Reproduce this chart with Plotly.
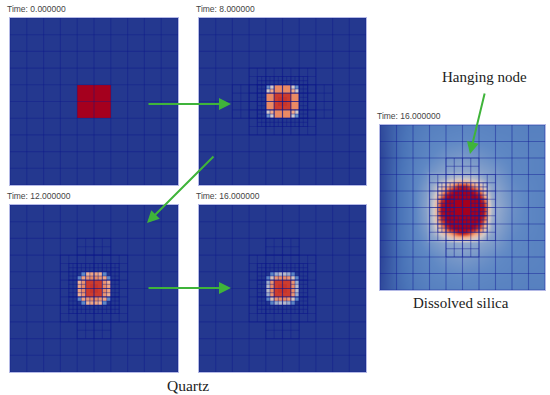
import numpy as np
import plotly.graph_objects as go

W, H = 550, 395
time_labels = ["Time: 0.000000", "Time: 8.000000", "Time: 12.000000", "Time: 16.000000", "Time: 16.000000"]
panel_boxes = [(10, 178, 18, 185), (199, 366, 18, 185), (10, 178, 205, 372), (199, 366, 205, 372), (380, 545, 125, 290)]

colorscale = [[0, "#24388f"], [0.2, "#4a74b8"], [0.3, "#5f88c4"], [0.4, "#8ea6cc"], [0.5, "#d0c8c8"],
              [0.6, "#f0b394"], [0.7, "#e98058"], [0.82, "#cc3c2e"], [1, "#a5001e"]]

# quartz, quarter-cell values over cells 4..6
quartz_t0 = [[100] * 8] * 8
quartz_t8 = [
    [32, 50, 68, 68, 68, 68, 50, 32],
    [50, 62, 68, 68, 68, 68, 62, 50],
    [68, 68, 82, 82, 82, 82, 68, 68],
    [68, 68, 82, 84, 84, 82, 68, 68],
    [68, 68, 82, 84, 84, 82, 68, 68],
    [68, 68, 82, 82, 82, 82, 68, 68],
    [50, 62, 68, 68, 68, 68, 62, 50],
    [32, 50, 68, 68, 68, 68, 50, 32],
]
quartz_t12 = [
    [0, 30, 60, 63, 63, 60, 30, 0],
    [30, 63, 66, 68, 68, 66, 63, 30],
    [60, 66, 82, 82, 82, 82, 66, 60],
    [63, 68, 82, 84, 84, 82, 68, 63],
    [63, 68, 82, 84, 84, 82, 68, 63],
    [60, 66, 82, 82, 82, 82, 66, 60],
    [30, 63, 66, 68, 68, 66, 63, 30],
    [0, 30, 60, 63, 63, 60, 30, 0],
]
quartz_t16 = [
    [0, 28, 42, 46, 46, 42, 28, 0],
    [28, 52, 66, 68, 68, 66, 52, 28],
    [42, 66, 82, 82, 82, 82, 66, 42],
    [46, 68, 82, 84, 84, 82, 68, 46],
    [46, 68, 82, 84, 84, 82, 68, 46],
    [42, 66, 82, 82, 82, 82, 66, 42],
    [28, 52, 66, 68, 68, 66, 52, 28],
    [0, 28, 42, 46, 46, 42, 28, 0],
]
quartz_frames = [quartz_t0, quartz_t8, quartz_t12, quartz_t16]

silica_outer = [
    [6, 16, 22, 26, 27, 28, 28, 27, 27, 26, 26],
    [5, 17, 24, 28, 30, 31, 30, 29, 28, 27, 27],
    [4, 17, 25, 30, 34, 36, 34, 31, 29, 28, 27],
    [4, 18, 27, 35, 40, 42, 40, 36, 30, 28, 27],
    [4, 18, 28, 40, 45, 46, 45, 40, 32, 29, 27],
    [4, 18, 28, 42, 46, 50, 46, 42, 33, 29, 27],
    [4, 18, 28, 40, 45, 46, 45, 40, 32, 29, 27],
    [4, 18, 27, 35, 40, 42, 40, 36, 30, 28, 27],
    [4, 17, 25, 30, 34, 36, 34, 31, 29, 28, 27],
    [5, 17, 24, 28, 30, 31, 30, 29, 28, 27, 27],
    [6, 16, 22, 26, 27, 28, 28, 27, 27, 26, 26],
]
silica_inner_nodes = [3, 3.25, 3.5, 3.75, 4, 4.25, 4.5, 4.75, 5, 5.25, 5.5, 5.75, 6, 6.25, 6.5, 6.75, 7]
silica_inner = [
    [36, 37, 38, 39, 40, 41, 42, 42, 42, 42, 42, 41, 40, 38, 37, 36, 35],
    [37, 38, 40, 42, 44, 46, 48, 49, 49, 49, 48, 46, 44, 41, 39, 37, 36],
    [38, 40, 43, 47, 52, 56, 60, 63, 64, 63, 60, 56, 52, 46, 41, 38, 37],
    [39, 43, 48, 55, 60, 66, 76, 88, 94, 88, 76, 66, 59, 51, 44, 40, 38],
    [40, 45, 52, 60, 76, 92, 100, 100, 100, 100, 100, 92, 74, 58, 47, 41, 38],
    [41, 47, 56, 68, 94, 100, 100, 100, 100, 100, 100, 100, 92, 64, 50, 42, 39],
    [42, 49, 60, 82, 100, 100, 100, 100, 100, 100, 100, 100, 100, 78, 55, 43, 39],
    [42, 50, 62, 92, 100, 100, 100, 100, 100, 100, 100, 100, 100, 90, 58, 44, 40],
    [42, 50, 64, 96, 100, 100, 100, 100, 100, 100, 100, 100, 100, 94, 60, 45, 40],
    [42, 50, 64, 96, 100, 100, 100, 100, 100, 100, 100, 100, 100, 94, 60, 45, 40],
    [42, 50, 62, 92, 100, 100, 100, 100, 100, 100, 100, 100, 100, 90, 58, 44, 40],
    [42, 49, 60, 82, 100, 100, 100, 100, 100, 100, 100, 100, 100, 78, 55, 43, 39],
    [41, 47, 57, 70, 94, 100, 100, 100, 100, 100, 100, 100, 92, 66, 52, 42, 39],
    [40, 45, 52, 60, 78, 94, 100, 100, 100, 100, 100, 92, 76, 60, 48, 41, 38],
    [39, 43, 48, 55, 62, 68, 78, 90, 96, 90, 78, 68, 61, 52, 45, 40, 38],
    [38, 40, 43, 47, 51, 55, 60, 63, 64, 63, 60, 55, 51, 46, 41, 38, 37],
    [37, 38, 40, 42, 44, 46, 48, 49, 49, 49, 48, 46, 44, 41, 39, 37, 36],
]

# mesh patches: x0, x1, y0, y1, divisions per coarse cell
mesh_base = [(0, 10, 0, 10, 1)]
mesh_t8 = mesh_base + [(2, 8, 4, 6, 2), (3, 7, 3, 7, 2), (3.5, 6.5, 3.5, 4, 4), (3.5, 6.5, 6, 6.5, 4),
                       (3.5, 4, 4, 6, 4), (6, 6.5, 4, 6, 4), (4, 4.5, 4, 4.5, 4), (5.5, 6, 4, 4.5, 4),
                       (4, 4.5, 5.5, 6, 4), (5.5, 6, 5.5, 6, 4)]
mesh_late = mesh_base + [(4, 6, 2, 3, 2), (4, 6, 7, 8, 2), (3, 7, 3, 7, 2), (3.5, 6.5, 3.5, 4.5, 4),
                         (3.5, 6.5, 5.5, 6.5, 4), (3.5, 4.5, 4.5, 5.5, 4), (5.5, 6.5, 4.5, 5.5, 4)]
panel_meshes = [mesh_base, mesh_t8, mesh_late, mesh_late, mesh_late]

line_colors = ["rgba(14,24,140,0.38)"] * 4 + ["rgba(20,30,150,0.46)"]
labels = [("Hanging node", 484, 77, 15), ("Dissolved silica", 461, 303, 15), ("Quartz", 188, 385, 15.5)]
arrows = [(147, 104, 231, 104), (215, 155, 147, 223), (147, 288, 231, 288), (485, 92, 470, 154)]


def segments(mesh):
    hx, hy, vx, vy = [], [], [], []
    for x0, x1, y0, y1, d in mesh:
        for k in range(int(round((y1 - y0) * d)) + 1):
            y = y0 + k / d
            hx += [x0, x1, None]
            hy += [y, y, None]
        for k in range(int(round((x1 - x0) * d)) + 1):
            x = x0 + k / d
            vx += [x, x, None]
            vy += [y0, y1, None]
    return hx, hy, vx, vy


fig = go.Figure()
quarter_nodes = np.arange(40) / 4 + 0.125
for i in range(5):
    ax = "" if i == 0 else str(i + 1)
    common = dict(xaxis="x" + ax, yaxis="y" + ax, zmin=0, zmax=100, colorscale=colorscale,
                  showscale=False, hoverinfo="skip")
    if i < 4:
        z = np.zeros((40, 40))
        z[16:24, 16:24] = quartz_frames[i]
        fig.add_trace(go.Heatmap(z=z, x=quarter_nodes, y=quarter_nodes, **common))
    else:
        nodes = list(range(11))
        fig.add_trace(go.Heatmap(z=silica_outer, x=nodes, y=nodes, zsmooth="best", **common))
        fig.add_trace(go.Heatmap(z=silica_inner, x=silica_inner_nodes, y=silica_inner_nodes, zsmooth="best", **common))
    hx, hy, vx, vy = segments(panel_meshes[i])
    for sx, sy in ((hx, hy), (vx, vy)):
        fig.add_trace(go.Scatter(x=sx, y=sy, mode="lines", xaxis="x" + ax, yaxis="y" + ax,
                                 line=dict(color=line_colors[i], width=1.1), hoverinfo="skip", showlegend=False))

layout = dict(width=W, height=H, margin=dict(l=0, r=0, t=0, b=0), paper_bgcolor="white", plot_bgcolor="white",
              showlegend=False)
annotations = []
for i, (x0, x1, y0, y1) in enumerate(panel_boxes):
    suffix = "" if i == 0 else str(i + 1)
    axis = dict(showgrid=False, zeroline=False, showticklabels=False, ticks="", showline=True, mirror=True,
                linecolor="#b4b9e6", linewidth=1)
    layout["xaxis" + suffix] = dict(axis, domain=[x0 / W, x1 / W], range=[0, 10], anchor="y" + suffix)
    layout["yaxis" + suffix] = dict(axis, domain=[1 - y1 / H, 1 - y0 / H], range=[10, 0], anchor="x" + suffix)
    annotations.append(dict(text=time_labels[i], xref="paper", yref="paper", x=(x0 - 5) / W, y=1 - (y0 - 9) / H,
                            xanchor="left", yanchor="middle", showarrow=False,
                            font=dict(family="Liberation Sans", size=8.5, color="#444444")))
for text, px, py, size in labels:
    annotations.append(dict(text=text, xref="paper", yref="paper", x=px / W, y=1 - py / H, xanchor="center",
                            yanchor="middle", showarrow=False,
                            font=dict(family="Liberation Serif", size=size, color="#222222")))
for tx, ty, hx_, hy_ in arrows:
    annotations.append(dict(text="", xref="paper", yref="paper", x=hx_ / W, y=1 - hy_ / H, ax=tx - hx_, ay=ty - hy_,
                            showarrow=True, arrowhead=2, arrowsize=1.2, arrowwidth=2, arrowcolor="#3fb43a",
                            standoff=0, startstandoff=0))
layout["annotations"] = annotations
fig.update_layout(**layout)
fig.write_html("out.html", config={"displayModeBar": False},
               post_script="document.body.style.margin='0';window.dispatchEvent(new Event('resize'));")
